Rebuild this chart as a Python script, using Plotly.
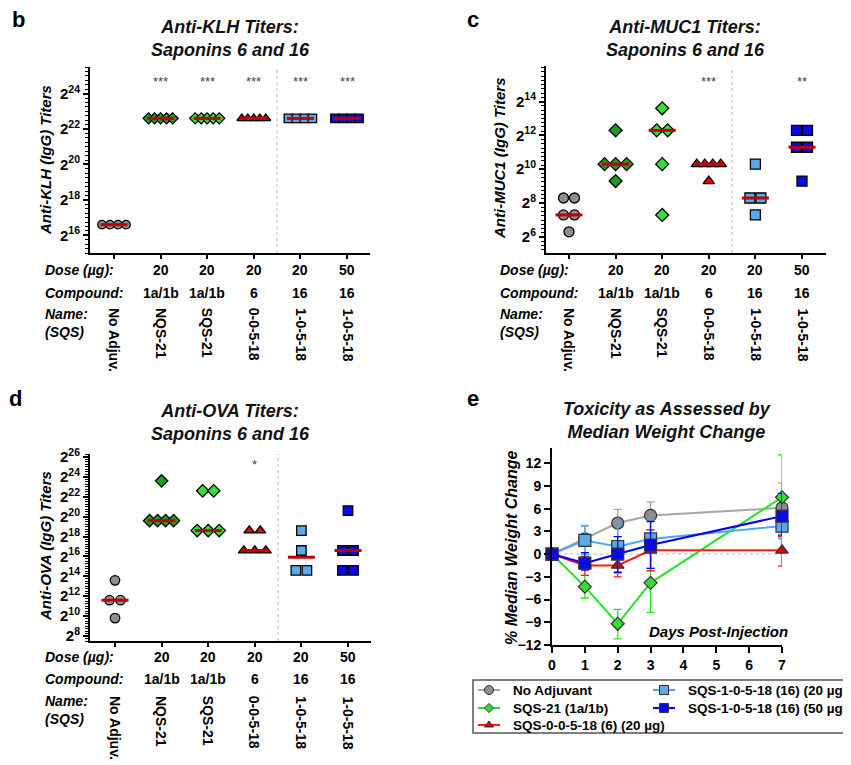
import numpy as np
import plotly.graph_objects as go
from collections import Counter

W, H = 851, 765
OX, OY = 8, 8  # page offset of the figure (default body margin)
FONT = "Liberation Sans, Arial, sans-serif"

# ---------------- DATA ----------------
groups = ["No Adjuv.", "NQS-21", "SQS-21", "0-0-5-18", "1-0-5-18", "1-0-5-18"]
doses = ["", "20", "20", "20", "20", "50"]
compounds = ["", "1a/1b", "1a/1b", "6", "16", "16"]

# log2 titers for each mouse
klh_log2 = [
    [16.6, 16.6, 16.6, 16.6],
    [22.6, 22.6, 22.6, 22.6, 22.6],
    [22.6, 22.6, 22.6, 22.6, 22.6],
    [22.6, 22.6, 22.6, 22.6, 22.6],
    [22.6, 22.6, 22.6, 22.6],
    [22.6, 22.6, 22.6, 22.6],
]
klh_stars = ["", "***", "***", "***", "***", "***"]

muc1_log2 = [
    [8.3, 8.3, 7.3, 7.3, 6.3],
    [12.3, 10.3, 10.3, 10.3, 9.3],
    [13.6, 12.3, 12.3, 10.3, 7.3],
    [10.3, 10.3, 10.3, 10.3, 9.3],
    [10.3, 8.3, 8.3, 7.3],
    [12.3, 12.3, 11.3, 11.3, 9.3],
]
muc1_stars = ["", "", "", "***", "", "**"]

ova_log2 = [
    [13.6, 11.6, 11.6, 9.8],
    [23.6, 19.6, 19.6, 19.6, 19.6],
    [22.6, 22.6, 18.6, 18.6, 18.6],
    [18.6, 18.6, 16.6, 16.6, 16.6],
    [18.6, 16.6, 14.6, 14.6],
    [20.6, 16.6, 16.6, 14.6, 14.6],
]
ova_stars = ["", "", "", "*", "", ""]

days = [0, 1, 2, 3, 7]
series_names = ["No Adjuvant", "SQS-21 (1a/1b)", "SQS-0-0-5-18 (6) (20 µg)",
                "SQS-1-0-5-18 (16) (20 µg)", "SQS-1-0-5-18 (16) (50 µg)"]
wt_noadj = [0, 2.0, 4.1, 5.1, 6.1]
wt_noadj_hi = [0, 3.8, 5.9, 6.9, 9.4]
wt_noadj_lo = [0, 0.2, 2.3, 3.2, 2.8]
wt_sqs21 = [0, -4.3, -9.2, -3.8, 7.5]
wt_sqs21_hi = [0, -2.8, -7.3, 3.2, 13.1]
wt_sqs21_lo = [0, -5.8, -11.2, -7.7, 2.0]
wt_6 = [0, -1.5, -1.5, 0.5, 0.5]
wt_6_hi = [0, -0.3, 0.0, 3.2, 2.3]
wt_6_lo = [0, -2.8, -3.0, -2.2, -1.6]
wt_16_20 = [0, 1.8, 1.0, 2.0, 3.7]
wt_16_20_hi = [0, 3.7, 4.3, 4.5, 7.8]
wt_16_20_lo = [0, 0.0, -2.5, -1.9, 2.1]
wt_16_50 = [0, -1.2, 0.0, 1.2, 5.0]
wt_16_50_hi = [0, 0.2, 2.3, 4.3, 8.0]
wt_16_50_lo = [0, -2.1, -2.4, -1.9, 2.5]

# ---------------- STYLE ----------------
grp_style = [
    dict(symbol="circle", color="#8e8e8e"),
    dict(symbol="diamond", color="#239a23"),
    dict(symbol="diamond", color="#33e033"),
    dict(symbol="triangle-up", color="#e60000"),
    dict(symbol="square", color="#5aa8ee"),
    dict(symbol="square", color="#0a0ae8"),
]
MED_COLOR = "#c00000"
CAT_PX = 46.6


def px(x):
    return (x - OX) / W


def py(y):
    return 1 - (y - OY) / H


def ann(x, y, text, font, xref="paper", yref="paper", **kw):
    d = dict(x=x, y=y, xref=xref, yref=yref, text=text, showarrow=False, font=font,
             xanchor="center", yanchor="middle")
    d.update(kw)
    return d


fig = go.Figure()
annotations = []
shapes = []

panels = [
    dict(letter="b", data=klh_log2, stars=klh_stars, xd=(90, 370), yd=(67, 253),
         cat0=114, yr=(15.0, 25.5), ticks=[16, 18, 20, 22, 24], msize=8.5,
         title="Anti-KLH Titers:<br>Saponins 6 and 16", ytitle="Anti-KLH (IgG) Titers",
         title_xy=(230, 39), letter_xy=(18, 20), ytitle_xy=(46, 160), star_y=82,
         lab_x=43, rows=(270, 293, 314, 332), names_top=306),
    dict(letter="c", data=muc1_log2, stars=muc1_stars, xd=(546, 826), yd=(66, 253),
         cat0=569, yr=(5.05, 16.1), ticks=[6, 8, 10, 12, 14], msize=10,
         title="Anti-MUC1 Titers:<br>Saponins 6 and 16", ytitle="Anti-MUC1 (IgG) Titers",
         title_xy=(685, 39), letter_xy=(473, 20), ytitle_xy=(500, 158), star_y=82,
         lab_x=498, rows=(270, 293, 314, 332), names_top=306),
    dict(letter="d", data=ova_log2, stars=ova_stars, xd=(90, 371), yd=(454, 641),
         cat0=115, yr=(7.5, 26.3), ticks=[8, 10, 12, 14, 16, 18, 20, 22, 24, 26], msize=9.5,
         title="Anti-OVA Titers:<br>Saponins 6 and 16", ytitle="Anti-OVA (IgG) Titers",
         title_xy=(230, 423), letter_xy=(15, 399), ytitle_xy=(45, 546), star_y=464,
         lab_x=43, rows=(657, 679, 701, 719), names_top=694),
]

title_font = dict(family=FONT, size=18, color="#111", weight="bold", style="italic")
letter_font = dict(family=FONT, size=22, color="black", weight="bold")
ytitle_font = dict(family=FONT, size=15, color="black", weight="bold", style="italic")
lab_font = dict(family=FONT, size=14, color="black", weight="bold", style="italic")
val_font = dict(family=FONT, size=14, color="black", weight="bold")

layout_axes = {}
for k, p in enumerate(panels):
    n = k + 1
    xa = "x" if n == 1 else f"x{n}"
    ya = "y" if n == 1 else f"y{n}"
    xkey = "xaxis" if n == 1 else f"xaxis{n}"
    ykey = "yaxis" if n == 1 else f"yaxis{n}"
    x0, x1 = p["xd"]
    lo = -(p["cat0"] - x0) / CAT_PX
    hi = 5 + (x1 - (p["cat0"] + 5 * CAT_PX)) / CAT_PX
    layout_axes[xkey] = dict(domain=[px(x0), px(x1)], range=[lo, hi], anchor=ya,
                             tickmode="array", tickvals=list(range(6)), showticklabels=False,
                             ticks="outside", ticklen=4, tickwidth=1.5, tickcolor="black",
                             showline=True, linewidth=2, linecolor="black", showgrid=False,
                             zeroline=False, fixedrange=True, automargin=False)
    layout_axes[ykey] = dict(domain=[py(p["yd"][1]), py(p["yd"][0])], range=list(p["yr"]),
                             anchor=xa, tickmode="array", tickvals=p["ticks"],
                             ticktext=[f"2<sup>{t}</sup>" for t in p["ticks"]],
                             ticks="outside", ticklen=5, tickwidth=1.5, tickcolor="black",
                             tickfont=dict(family=FONT, size=15, color="black", weight="bold"),
                             minor=dict(tickmode="linear", tick0=0, dtick=0.25, ticks="outside",
                                        ticklen=3, tickwidth=1, tickcolor="black"),
                             showline=True, linewidth=2, linecolor="black", showgrid=False,
                             zeroline=False, fixedrange=True, automargin=False)
    for i, vals in enumerate(p["data"]):
        cnt = Counter(vals)
        seen = {}
        xs = []
        for v in vals:
            m = cnt[v]
            j = seen.get(v, 0)
            seen[v] = j + 1
            sp = min(11.0, 24.0 / (m - 1)) if m > 1 else 0.0
            xs.append(i + (j - (m - 1) / 2) * sp / CAT_PX)
        st = grp_style[i]
        fig.add_trace(go.Scatter(x=xs, y=vals, mode="markers", xaxis=xa, yaxis=ya,
                                 marker=dict(symbol=st["symbol"], color=st["color"], size=p["msize"],
                                             line=dict(color="black", width=1.3)),
                                 showlegend=False, hoverinfo="skip", cliponaxis=False))
        med = float(np.log2(np.median(np.power(2.0, vals))))
        fig.add_trace(go.Scatter(x=[i - 0.29, i + 0.29], y=[med, med], mode="lines",
                                 xaxis=xa, yaxis=ya, line=dict(color=MED_COLOR, width=3),
                                 showlegend=False, hoverinfo="skip", cliponaxis=False))
        if p["stars"][i]:
            annotations.append(ann(i, py(p["star_y"]), p["stars"][i],
                                   dict(family=FONT, size=13, color="#444"), xref=xa))
    shapes.append(dict(type="line", xref=xa, yref=f"{ya} domain", x0=3.5, x1=3.5, y0=0, y1=1,
                       line=dict(color="#bbbbbb", width=1, dash="dot")))
    annotations.append(ann(px(p["title_xy"][0]), py(p["title_xy"][1]), p["title"], title_font,
                           align="center"))
    annotations.append(ann(px(p["letter_xy"][0]), py(p["letter_xy"][1]), p["letter"], letter_font))
    annotations.append(ann(px(p["ytitle_xy"][0]), py(p["ytitle_xy"][1]), p["ytitle"], ytitle_font,
                           textangle=-90))
    r_dose, r_comp, r_name, r_sqs = p["rows"]
    for txt, yy in [("Dose (µg):", r_dose), ("Compound:", r_comp), ("Name:", r_name), ("(SQS)", r_sqs)]:
        annotations.append(ann(px(p["lab_x"]), py(yy), txt, lab_font, xanchor="left"))
    for i in range(6):
        if doses[i]:
            annotations.append(ann(i, py(r_dose), doses[i], val_font, xref=xa))
        if compounds[i]:
            annotations.append(ann(i, py(r_comp), compounds[i], val_font, xref=xa))
        annotations.append(ann(i, py(p["names_top"]), groups[i], val_font, xref=xa,
                               textangle=90, yanchor="top"))

# ---------------- PANEL e ----------------
e_series = [
    (wt_noadj, wt_noadj_hi, wt_noadj_lo, "#a6a6a6", "#8e8e8e", "circle", 12),
    (wt_sqs21, wt_sqs21_hi, wt_sqs21_lo, "#22e622", "#33dd33", "diamond", 10),
    (wt_6, wt_6_hi, wt_6_lo, "#ff1a1a", "#e00000", "triangle-up", 11),
    (wt_16_20, wt_16_20_hi, wt_16_20_lo, "#4da6ff", "#5aa8ee", "square", 12),
    (wt_16_50, wt_16_50_hi, wt_16_50_lo, "#0000ff", "#0a0ae8", "square", 12),
]
for (yv, yh, yl, lc, mc, sym, ms), nm in zip(e_series, series_names):
    yv = np.array(yv, float)
    fig.add_trace(go.Scatter(
        x=days, y=yv, name=nm, mode="lines+markers", xaxis="x4", yaxis="y4",
        line=dict(color=lc, width=2),
        marker=dict(symbol=sym, color=mc, size=ms, line=dict(color="#333", width=1.2)),
        error_y=dict(type="data", symmetric=False, array=np.array(yh) - yv,
                     arrayminus=yv - np.array(yl), color=lc, thickness=1.3, width=4),
        showlegend=False, cliponaxis=False, hoverinfo="skip"))

layout_axes["xaxis4"] = dict(domain=[px(552), px(782)], range=[0, 7], anchor="y4",
                             tickmode="array", tickvals=list(range(8)), ticks="outside", ticklen=6,
                             tickwidth=1.5, tickcolor="black",
                             tickfont=dict(family=FONT, size=14, color="black", weight="bold"),
                             showline=True, linewidth=2, linecolor="black", showgrid=False,
                             zeroline=False, fixedrange=True, automargin=False)
layout_axes["yaxis4"] = dict(domain=[py(645), py(448)], range=[-12, 14], anchor="x4",
                             tickmode="array", tickvals=list(range(-12, 13, 3)), ticks="outside",
                             ticklen=6, tickwidth=1.5, tickcolor="black",
                             tickfont=dict(family=FONT, size=14, color="black", weight="bold"),
                             showline=True, linewidth=2, linecolor="black", showgrid=False,
                             zeroline=False, fixedrange=True, automargin=False)
shapes.append(dict(type="line", xref="x4 domain", yref="y4", x0=0, x1=1, y0=0, y1=0,
                   line=dict(color="#bbbbbb", width=1, dash="dot"), layer="below"))
annotations += [
    ann(px(667), py(420), "Toxicity as Assessed by<br>Median Weight Change", title_font, align="center"),
    ann(px(473), py(399), "e", letter_font),
    ann(px(511), py(548), "% Median Weight Change",
        dict(family=FONT, size=16, color="black", weight="bold", style="italic"), textangle=-90),
    ann(px(718), py(631), "Days Post-Injection",
        dict(family=FONT, size=15, color="black", weight="bold", style="italic")),
]

# ---------------- manual legend (hidden pixel axes) ----------------
LEG_X0, LEG_Y0, LEG_Y1 = 473, 680, 733
leg_cols = [478, 653]
leg_rows = [690, 708, 725]
leg_slots = [(0, 0), (0, 1), (0, 2), (1, 0), (1, 1)]
layout_axes["xaxis5"] = dict(domain=[0, 1], range=[OX, OX + W], visible=False, anchor="y5",
                             fixedrange=True, automargin=False)
layout_axes["yaxis5"] = dict(domain=[0, 1], range=[OY + H, OY], visible=False, anchor="x5",
                             fixedrange=True, automargin=False)
shapes.append(dict(type="rect", xref="paper", yref="paper", x0=px(LEG_X0), x1=1.05,
                   y0=py(LEG_Y1), y1=py(LEG_Y0), line=dict(color="#555", width=1.5),
                   fillcolor="rgba(0,0,0,0)"))
leg_font = dict(family=FONT, size=13.5, color="black", weight="bold")
for (yv, yh, yl, lc, mc, sym, ms), nm, (c, r) in zip(e_series, series_names, leg_slots):
    lx = leg_cols[c]
    ly = leg_rows[r]
    fig.add_trace(go.Scatter(x=[lx, lx + 11, lx + 22], y=[ly, ly, ly], mode="lines",
                             xaxis="x5", yaxis="y5", line=dict(color=lc, width=2),
                             showlegend=False, hoverinfo="skip", cliponaxis=False))
    fig.add_trace(go.Scatter(x=[lx + 11], y=[ly], mode="markers", xaxis="x5", yaxis="y5",
                             marker=dict(symbol=sym, color=mc, size=ms - 3,
                                         line=dict(color="#333", width=1)),
                             showlegend=False, hoverinfo="skip", cliponaxis=False))
    annotations.append(ann(px(lx + 33), py(ly), nm, leg_font, xanchor="left"))

fig.update_layout(
    width=W, height=H, autosize=False,
    margin=dict(l=0, r=0, t=0, b=0, pad=0, autoexpand=False),
    plot_bgcolor="rgba(0,0,0,0)", paper_bgcolor="white", showlegend=False,
    annotations=annotations, shapes=shapes,
    **layout_axes,
)

fig.write_html("out.html")
